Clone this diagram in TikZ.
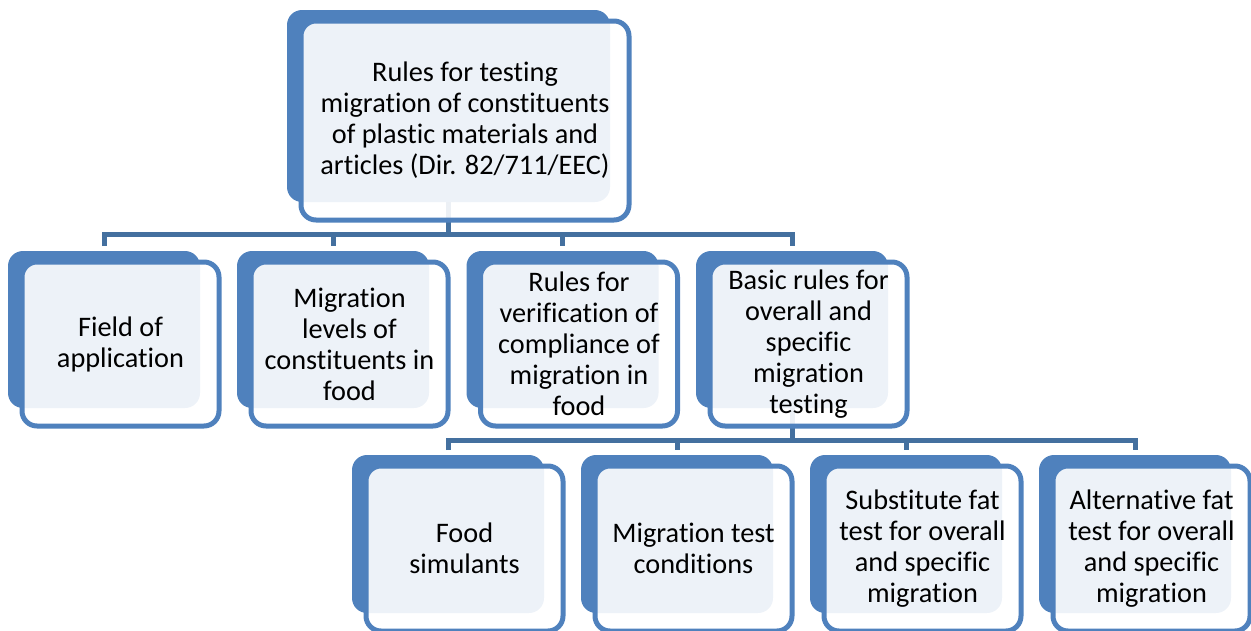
\documentclass[tikz,border=0pt]{standalone}
\usepackage{fontspec}
\setmainfont{Carlito}[Ligatures={NoCommon}]
\definecolor{boxblue}{HTML}{4F81BD}
\definecolor{connblue}{HTML}{44709F}
\begin{document}
\begin{tikzpicture}[x=1pt,y=-1pt,
  backbox/.style={rectangle,rounded corners=15pt,fill=boxblue,inner sep=0pt,outer sep=0pt,anchor=north west,minimum width=192pt,minimum height=157pt},
  frontbox/.style={rectangle,rounded corners=15pt,draw=boxblue,line width=5pt,fill=white,fill opacity=0.9,text opacity=1,inner sep=0pt,outer sep=0pt,anchor=north west,minimum width=197pt,minimum height=164pt,align=center,font=\fontsize{28.3}{31}\selectfont},
  conn/.style={draw=connblue,line width=5pt,line join=miter,line cap=butt}]
\useasboundingbox (0,0) rectangle (1251,630);
% back boxes
\node[backbox,minimum width=323pt,minimum height=192pt] (b0) at (287,10) {};
\node[backbox] (b1) at (8,251) {};
\node[backbox] (b2) at (237,251) {};
\node[backbox] (b3) at (466.5,251) {};
\node[backbox] (b4) at (696,251) {};
\node[backbox,minimum height=158pt] (b5) at (352,455) {};
\node[backbox,minimum height=158pt] (b6) at (581,455) {};
\node[backbox,minimum height=158pt] (b7) at (810,455) {};
\node[backbox,minimum height=158pt] (b8) at (1039,455) {};
% connectors
\coordinate (j0) at (448.5,234.5);
\coordinate (j1) at (791.5,440);
\draw[conn] (b0.south) -- (b0.south |- j0);
\draw[conn] ([yshift=5pt]b1.north) -- (b1.north |- j0) -- (b4.north |- j0) -- ([yshift=5pt]b4.north);
\draw[conn] (b2.north |- j0) -- ([yshift=5pt]b2.north);
\draw[conn] (b3.north |- j0) -- ([yshift=5pt]b3.north);
\draw[conn] (b4.south) -- (b4.south |- j1);
\draw[conn] ([yshift=5pt]b5.north) -- (b5.north |- j1) -- (b8.north |- j1) -- ([yshift=5pt]b8.north);
\draw[conn] (b6.north |- j1) -- ([yshift=5pt]b6.north);
\draw[conn] (b7.north |- j1) -- ([yshift=5pt]b7.north);
% front boxes
\node[frontbox,minimum width=328pt,minimum height=199pt] (f0) at (301,21) {Rules for testing\\migration of constituents\\of plastic materials and\\articles (Dir. 82/711/EEC)};
\node[frontbox] (f1) at (22,262) {Field of\\application};
\node[frontbox] (f2) at (251,262) {Migration\\levels of\\constituents in\\food};
\node[frontbox] (f3) at (480.5,262) {Rules for\\verification of\\compliance of\\migration in\\food};
\node[frontbox] (f4) at (710,262) {Basic rules for\\overall and\\specific\\migration\\testing};
\node[frontbox,minimum height=165pt] (f5) at (366,466) {Food\\simulants};
\node[frontbox,minimum height=165pt] (f6) at (595,466) {Migration test\\conditions};
\node[frontbox,minimum height=165pt] (f7) at (824,466) {Substitute fat\\test for overall\\and specific\\migration};
\node[frontbox,minimum height=165pt] (f8) at (1053,466) {Alternative fat\\test for overall\\and specific\\migration};
\end{tikzpicture}
\end{document}
